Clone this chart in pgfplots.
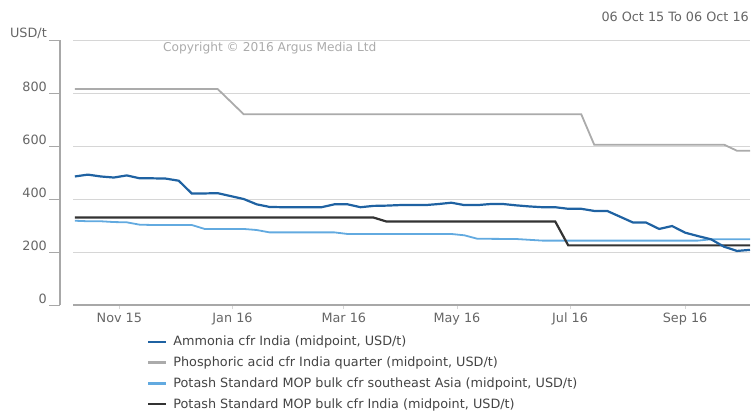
\documentclass[border=0pt]{standalone}
\usepackage{pgfplots}
\pgfplotsset{compat=1.18}
\usepackage{fontspec}
\setmainfont{DejaVu Sans}
\definecolor{amm}{HTML}{1F62A2}
\definecolor{phos}{HTML}{ABABAB}
\definecolor{potse}{HTML}{62AAE0}
\definecolor{potin}{HTML}{333333}
\definecolor{gridc}{HTML}{D6D6D6}
\definecolor{axc}{HTML}{A8A8A8}
\definecolor{txt}{HTML}{666666}
\definecolor{legtxt}{HTML}{444444}
\pgfplotstableread{
day val
2 485
9 492
16 485
23 481
30 489
37 478
44 478
51 477
58 469
65 421
72 421
79 422
86 411
93 400
100 380
107 370
114 369
121 369
128 369
135 369
142 380
149 380
156 369
163 374
170 375
177 377
184 377
191 377
198 381
205 386
212 377
219 377
226 381
233 381
240 376
247 372
254 369
261 369
268 363
275 363
282 355
289 355
296 333
303 311
310 311
317 287
324 298
331 273
338 260
345 248
352 220
359 204
366 208
}\ammonia
\pgfplotstableread{
day val
2 815
79 815
93 720
275 720
282 605
352 605
359 582
366 582
}\phos
\pgfplotstableread{
day val
2 318
9 316
16 316
23 313
30 312
37 303
44 302
65 302
72 287
93 287
100 283
107 274
142 274
149 268
205 268
212 263
219 250
240 249
247 246
254 243
338 243
345 248
366 248
}\potse
\pgfplotstableread{
day val
2 330
163 330
170 315
261 315
268 225
366 225
}\potin
\begin{document}
\begin{tikzpicture}[x=1pt,y=1pt]
\useasboundingbox (0,0) rectangle (754,413);
\begin{axis}[
  at={(73pt,108pt)}, anchor=south west,
  scale only axis, width=677pt, height=265pt,
  xmin=1, xmax=366, ymin=0, ymax=1000,
  axis x line*=bottom, axis y line*=left,
  x axis line style={draw=axc, line width=1.6pt},
  y axis line style={draw=none},
  ytick={0,200,400,600,800,1000},
  yticklabels={0,200,400,600,800,USD/t},
  ytick style={draw=none},
  yticklabel style={anchor=south east, inner sep=0pt, xshift=-22pt, yshift=1.5pt},
  xtick={26,87,147,208,269,331},
  xticklabels={Nov 15,Jan 16,Mar 16,May 16,Jul 16,Sep 16},
  xtick style={draw=gridc, line width=0.8pt},
  tick align=outside, major tick length=4pt,
  xticklabel style={yshift=-0.5pt},
  ymajorgrids, grid style={draw=gridc, line width=0.9pt},
  tick label style={font=\fontsize{12.8}{14}\selectfont, text=txt},
  /pgf/number format/assume math mode=true,
  clip=false,
]
\addplot[phos, line width=1.8pt] table[x=day,y=val] {\phos};
\addplot[potse, line width=1.8pt] table[x=day,y=val] {\potse};
\addplot[potin, line width=2.2pt] table[x=day,y=val] {\potin};
\addplot[amm, line width=2.2pt] table[x=day,y=val] {\ammonia};
\end{axis}
% legend drawn in order of reference
\begin{axis}[
  at={(73pt,108pt)}, anchor=south west,
  scale only axis, width=677pt, height=265pt,
  xmin=1, xmax=366, ymin=0, ymax=1000,
  hide axis,
  legend style={at={(0.109,-0.113)}, anchor=north west, draw=none, fill=none,
    inner sep=0pt, font=\fontsize{12.8}{14}\selectfont, text=legtxt,
    row sep=7.6pt, column sep=5pt, nodes={inner sep=1pt}},
  legend cell align=left,
  legend image code/.code={\draw[#1] (0pt,0pt) -- (18pt,0pt);},
]
\addlegendimage{amm, line width=2.4pt}
\addlegendentry{Ammonia cfr India (midpoint, USD/t)}
\addlegendimage{phos, line width=2.4pt}
\addlegendentry{Phosphoric acid cfr India quarter (midpoint, USD/t)}
\addlegendimage{potse, line width=2.4pt}
\addlegendentry{Potash Standard MOP bulk cfr southeast Asia (midpoint, USD/t)}
\addlegendimage{potin, line width=2.4pt}
\addlegendentry{Potash Standard MOP bulk cfr India (midpoint, USD/t)}
\end{axis}
\draw[axc, line width=1.6pt] (60,108) -- (60,373);
\foreach \yy in {108,161,214,267,320,373} \draw[axc, line width=0.9pt] (49,\yy) -- (60,\yy);
\node[anchor=east, text=txt, font=\fontsize{12.8}{14}\selectfont, inner sep=0pt] at (749,396) {06 Oct 15 To 06 Oct 16};
\node[anchor=west, text=phos, font=\fontsize{12.2}{14}\selectfont, inner sep=0pt] at (163,364.5) {Copyright © 2016 Argus Media Ltd};
\end{tikzpicture}
\end{document}
